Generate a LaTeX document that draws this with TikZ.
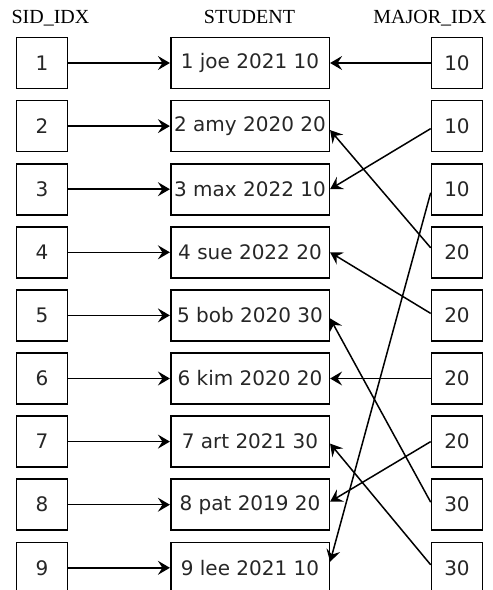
\documentclass[tikz,border=0pt]{standalone}
\usepackage{fontspec}
\setmainfont{Liberation Serif}
\newfontfamily\boxfont{DejaVu Sans}
\usetikzlibrary{arrows.meta}
\begin{document}
\begin{tikzpicture}[x=1pt,y=-1pt,
  box/.style={draw=black, line width=1.6pt, minimum height=51pt, inner sep=0pt,
    font=\boxfont\fontsize{20}{24}\selectfont, text=black!85},
  idxbox/.style={box, minimum width=51pt},
  recbox/.style={box, minimum width=158.6pt},
  hdr/.style={font=\fontsize{20}{24}\selectfont, anchor=base, inner sep=0pt},
  link/.style={line width=1.5pt, -{Stealth[length=12pt,width=14pt,inset=4.5pt]}}]
\useasboundingbox (0,0) rectangle (493,590);
\clip (0,0) rectangle (493,590);
\node[hdr] (h1) at (50.5,23.3) {SID\_IDX};
\node[hdr] (h2) at (249.5,23.3) {STUDENT};
\node[hdr] (h3) at (430,23.3) {MAJOR\_IDX};
\foreach \i/\s/\m in {1/1 joe 2021 10/10, 2/2 amy 2020 20/10, 3/3 max 2022 10/10,
  4/4 sue 2022 20/20, 5/5 bob 2020 30/20, 6/6 kim 2020 20/20, 7/7 art 2021 30/20,
  8/8 pat 2019 20/30, 9/9 lee 2021 10/30}{
  \pgfmathsetmacro\yy{63+(\i-1)*63.1}
  \node[idxbox] (l\i) at (42,\yy) {\i};
  \node[recbox] (c\i) at (250,\yy) {\s};
  \node[idxbox] (r\i) at (457,\yy) {\m};
  \draw[link] (l\i) -- (c\i);
}
\draw[link] (r1) -- (c1);
\draw[link] ([yshift=-2.5pt]r2.west) -- (c3.east);
\draw[link] ([yshift=-3.5pt]r3.west) -- ([yshift=6pt]c9.east);
\draw[link] ([yshift=4.5pt]r4.west) -- ([yshift=-4pt]c2.east);
\draw[link] ([yshift=2pt]r5.west) -- (c4.east);
\draw[link] (r6) -- (c6);
\draw[link] (r7.west) -- ([yshift=3pt]c8.east);
\draw[link] ([yshift=2.5pt]r8.west) -- ([yshift=-3pt]c5.east);
\draw[link] ([yshift=3pt]r9.west) -- ([yshift=-2pt]c7.east);
\end{tikzpicture}
\end{document}
